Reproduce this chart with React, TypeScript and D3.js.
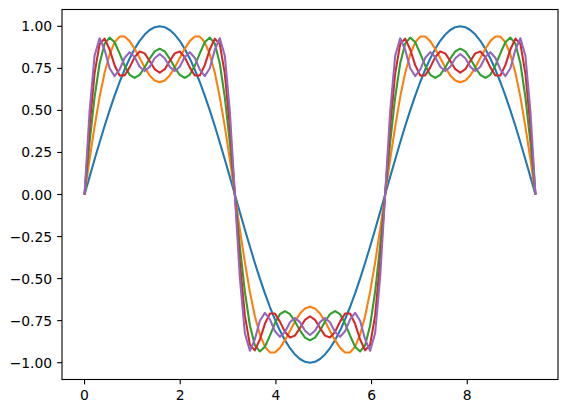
import React from 'react';
import * as d3 from 'd3';

// sample positions, 0 .. 3π
const xs = [
  0, 0.105, 0.209, 0.314, 0.419, 0.524, 0.628, 0.733, 0.838, 0.942, 1.047, 1.152, 1.257, 1.361, 1.466, 1.571,
  1.676, 1.78, 1.885, 1.99, 2.094, 2.199, 2.304, 2.409, 2.513, 2.618, 2.723, 2.827, 2.932, 3.037, 3.142,
  3.246, 3.351, 3.456, 3.56, 3.665, 3.77, 3.875, 3.979, 4.084, 4.189, 4.294, 4.398, 4.503, 4.608, 4.712,
  4.817, 4.922, 5.027, 5.131, 5.236, 5.341, 5.445, 5.55, 5.655, 5.76, 5.864, 5.969, 6.074, 6.178, 6.283,
  6.388, 6.493, 6.597, 6.702, 6.807, 6.912, 7.016, 7.121, 7.226, 7.33, 7.435, 7.54, 7.645, 7.749, 7.854,
  7.959, 8.063, 8.168, 8.273, 8.378, 8.482, 8.587, 8.692, 8.796, 8.901, 9.006, 9.111, 9.215, 9.32, 9.425,
];

const wave1 = [
  0, .105, .208, .309, .407, .5, .588, .669, .743, .809, .866, .914, .951, .978, .995, 1, .995, .978, .951, .914, .866, .809, .743, .669, .588, .5, .407, .309, .208, .105, 0,
  -.105, -.208, -.309, -.407, -.5, -.588, -.669, -.743, -.809, -.866, -.914, -.951, -.978, -.995, -1, -.995, -.978, -.951, -.914, -.866, -.809, -.743, -.669, -.588, -.5, -.407, -.309, -.208, -.105, 0,
  .105, .208, .309, .407, .5, .588, .669, .743, .809, .866, .914, .951, .978, .995, 1, .995, .978, .951, .914, .866, .809, .743, .669, .588, .5, .407, .309, .208, .105, 0,
];

const wave2 = [
  0, .208, .404, .579, .724, .833, .905, .939, .939, .912, .866, .811, .755, .708, .678, .667, .678, .708, .755, .811, .866, .912, .939, .939, .905, .833, .724, .579, .404, .208, 0,
  -.208, -.404, -.579, -.724, -.833, -.905, -.939, -.939, -.912, -.866, -.811, -.755, -.708, -.678, -.667, -.678, -.708, -.755, -.811, -.866, -.912, -.939, -.939, -.905, -.833, -.724, -.579, -.404, -.208, 0,
  .208, .404, .579, .724, .833, .905, .939, .939, .912, .866, .811, .755, .708, .678, .667, .678, .708, .755, .811, .866, .912, .939, .939, .905, .833, .724, .579, .404, .208, 0,
];

const wave3 = [
  0, .308, .577, .779, .897, .933, .905, .839, .766, .712, .693, .711, .755, .808, .851, .867, .851, .808, .755, .711, .693, .712, .766, .839, .905, .933, .897, .779, .577, .308, 0,
  -.308, -.577, -.779, -.897, -.933, -.905, -.839, -.766, -.712, -.693, -.711, -.755, -.808, -.851, -.867, -.851, -.808, -.755, -.711, -.693, -.712, -.766, -.839, -.905, -.933, -.897, -.779, -.577, -.308, 0,
  .308, .577, .779, .897, .933, .905, .839, .766, .712, .693, .711, .755, .808, .851, .867, .851, .808, .755, .711, .693, .712, .766, .839, .905, .933, .897, .779, .577, .308, 0,
];

const wave4 = [
  0, .403, .719, .894, .927, .862, .769, .708, .708, .756, .817, .85, .839, .794, .745, .724, .745, .794, .839, .85, .817, .756, .708, .708, .769, .862, .927, .894, .719, .403, 0,
  -.403, -.719, -.894, -.927, -.862, -.769, -.708, -.708, -.756, -.817, -.85, -.839, -.794, -.745, -.724, -.745, -.794, -.839, -.85, -.817, -.756, -.708, -.708, -.769, -.862, -.927, -.894, -.719, -.403, 0,
  .403, .719, .894, .927, .862, .769, .708, .708, .756, .817, .85, .839, .794, .745, .724, .745, .794, .839, .85, .817, .756, .708, .708, .769, .862, .927, .894, .719, .403, 0,
];

const wave5 = [
  0, .493, .825, .929, .861, .751, .704, .743, .813, .846, .817, .76, .734, .759, .81, .835, .81, .759, .734, .76, .817, .846, .813, .743, .704, .751, .861, .929, .825, .493, 0,
  -.493, -.825, -.929, -.861, -.751, -.704, -.743, -.813, -.846, -.817, -.76, -.734, -.759, -.81, -.835, -.81, -.759, -.734, -.76, -.817, -.846, -.813, -.743, -.704, -.751, -.861, -.929, -.825, -.493, 0,
  .493, .825, .929, .861, .751, .704, .743, .813, .846, .817, .76, .734, .759, .81, .835, .81, .759, .734, .76, .817, .846, .813, .743, .704, .751, .861, .929, .825, .493, 0,
];

const seriesList = [wave1, wave2, wave3, wave4, wave5];
const colors = ['#1f77b4', '#ff7f0e', '#2ca02c', '#d62728', '#9467bd'];

const xTicks = [0, 2, 4, 6, 8];
const yTicks = [-1, -0.75, -0.5, -0.25, 0, 0.25, 0.5, 0.75, 1];

const W = 568;
const H = 413;
const margin = { left: 62, right: 10, top: 9.5, bottom: 33.5 };
const FONT = '"DejaVu Sans", sans-serif';

export default function App() {
  const plotW = W - margin.left - margin.right;
  const plotH = H - margin.top - margin.bottom;

  const xMax = xs[xs.length - 1];
  const xPad = xMax * 0.05;
  const xScale = d3.scaleLinear().domain([-xPad, xMax + xPad]).range([0, plotW]);
  const yScale = d3.scaleLinear().domain([-1.1, 1.1]).range([plotH, 0]);

  const fmt = (v: number) => d3.format('.2f')(v).replace('-', '\u2212');

  return (
    <svg
      width={W}
      height={H}
      style={{ position: 'absolute', left: 0, top: 0, background: '#fff' }}
    >
      <g transform={`translate(${margin.left},${margin.top})`}>
        <defs>
          <clipPath id='plot-clip'>
            <rect x={0} y={0} width={plotW} height={plotH} />
          </clipPath>
        </defs>
        <g clipPath='url(#plot-clip)'>
          {seriesList.map((ys, si) => {
            const line = d3
              .line<number>()
              .x((_, i) => xScale(xs[i]))
              .y((d) => yScale(d));
            return (
              <path
                key={si}
                d={line(ys) || ''}
                fill='none'
                stroke={colors[si]}
                strokeWidth={2.08}
                strokeLinejoin='round'
                strokeLinecap='butt'
              />
            );
          })}
        </g>

        <rect
          x={0}
          y={0}
          width={plotW}
          height={plotH}
          fill='none'
          stroke='#000'
          strokeWidth={1.1}
        />

        {xTicks.map((t) => (
          <g key={t} transform={`translate(${xScale(t)},${plotH})`}>
            <line y2={4.86} stroke='#000' strokeWidth={1.1} />
            <text
              y={20.8}
              textAnchor='middle'
              fontFamily={FONT}
              fontSize={13.9}
              fill='#000'
            >
              {t}
            </text>
          </g>
        ))}

        {yTicks.map((t) => (
          <g key={t} transform={`translate(0,${yScale(t)})`}>
            <line x2={-4.86} stroke='#000' strokeWidth={1.1} />
            <text
              x={-9.8}
              y={5}
              textAnchor='end'
              fontFamily={FONT}
              fontSize={13.9}
              fill='#000'
            >
              {fmt(t)}
            </text>
          </g>
        ))}
      </g>
    </svg>
  );
}
